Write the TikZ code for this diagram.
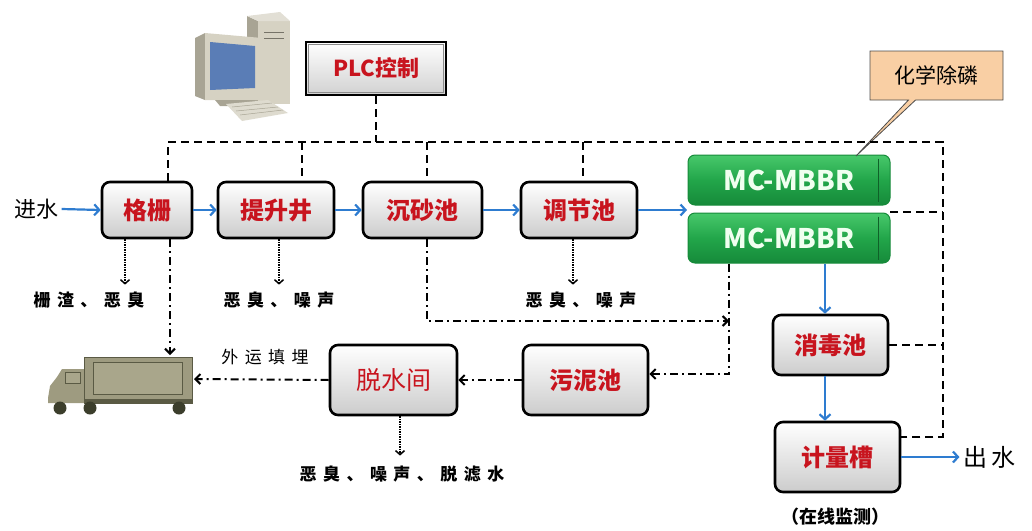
\documentclass[tikz,border=0pt]{standalone}
\usepackage{fontspec}
\setmainfont{Noto Sans CJK SC}
\newfontfamily\spc{Noto Sans CJK SC}[LetterSpace=38]
\usetikzlibrary{arrows.meta,shapes.callouts,calc}
\definecolor{unitred}{HTML}{C8141E}
\definecolor{flowblue}{HTML}{2E7CD0}
\definecolor{mbgreen}{HTML}{22A64A}
\definecolor{mbtop}{HTML}{48C86B}
\definecolor{mbbot}{HTML}{168A3A}
\definecolor{peach}{HTML}{F9CFA4}
\definecolor{truckbody}{HTML}{9E9B80}
\definecolor{truckin}{HTML}{A9A68B}
\definecolor{truckedge}{HTML}{5A5A44}
\definecolor{wheel}{HTML}{3C3E2C}
\definecolor{pcbeige}{HTML}{D6D2C3}
\definecolor{pcshade}{HTML}{A8A494}
\definecolor{screen}{HTML}{5A7DB6}
\begin{document}
\begin{tikzpicture}[x=1pt,y=-1pt,
  unit/.style={draw=black, line width=2.6pt, rounded corners=8pt,
    top color=white, bottom color=black!20, text=unitred,
    font=\fontsize{24}{24}\selectfont\bfseries, inner sep=0pt},
  mbbr/.style={draw=mbbot, line width=1pt, rounded corners=7pt,
    top color=mbtop, bottom color=mbbot, middle color=mbgreen,
    text=green!6!white, font=\fontsize{27}{27}\selectfont\bfseries,
    minimum width=202, minimum height=50, inner sep=0pt},
  note/.style={font=\spc\fontsize{17}{17}\selectfont\bfseries, inner sep=0pt},
  flow/.style={draw=flowblue, line width=2.2pt,
    -{Straight Barb[length=5pt,width=11pt,line width=2.2pt]}},
  ctrl/.style={line width=2pt, dash pattern=on 8pt off 5pt},
  sludge/.style={line width=2pt, dash pattern=on 8pt off 4pt on 2pt off 4pt,
    -{Straight Barb[length=5pt,width=10pt,line width=2pt]}},
  emit/.style={line width=1.5pt, dash pattern=on 1.2pt off 1.3pt,
    -{Straight Barb[length=4pt,width=9pt,line width=1.5pt]}}
]
\useasboundingbox (0,0) rectangle (1032,530);

% ---------- computer ----------
\fill[pcshade] (247,16) -- (258,21) -- (258,104) -- (247,98) -- cycle;
\fill[pcbeige] (258,21) rectangle (290,104);
\fill[pcbeige!70!white] (247,16) -- (280,12) -- (290,21) -- (258,21) -- cycle;
\draw[pcshade!70!black, line width=0.6pt] (264,32) -- (284,32) (264,38) -- (284,38);
\fill[pcshade] (195,38) -- (205,33) -- (205,100) -- (195,96) -- cycle;
\fill[pcbeige] (205,33) -- (262,38) -- (262,100) -- (205,100) -- cycle;
\fill[screen] (210,42) -- (255,46) -- (255,88) -- (210,90) -- cycle;
\fill[pcshade] (215,100) -- (255,100) -- (250,106) -- (220,106) -- cycle;
\fill[pcbeige!80!white] (226,104) -- (268,100) -- (288,113) -- (242,121) -- cycle;
\draw[pcshade, line width=0.5pt] (232,107) -- (272,103) (236,111) -- (278,107) (240,115) -- (283,110);

% ---------- truck ----------
\fill[truckbody] (48,398) -- (50,386) -- (57,377) -- (62,369) -- (86,369) -- (86,403) -- (48,403) -- cycle;
\fill[truckin, draw=truckedge, line width=0.6pt] (65,372) rectangle (80,383);
\fill[truckedge] (84,398) rectangle (193,404);
\fill[truckbody, draw=truckedge, line width=0.8pt] (84,357) rectangle (192,399);
\fill[truckin, draw=truckedge, line width=0.8pt] (93,362) rectangle (182,394);
\fill[wheel] (60,408) circle (6.5) (90,408) circle (6.5) (179,408) circle (6.5);
\coordinate (trucktop) at (170,355);
\coordinate (truckend) at (194,379);

% ---------- control ----------
\node[draw=black, line width=2.8pt, top color=white, bottom color=black!18,
  minimum width=140, minimum height=53, inner sep=0pt, text=unitred,
  font=\fontsize{22}{22}\selectfont\bfseries] (plc) at (376,68.5) {PLC控制};
\draw[black!45, line width=0.8pt] ($(plc.north west)+(4,4)$) rectangle ($(plc.south east)+(-4,-4)$);

% ---------- treatment units ----------
\node (jin) at (36,209) {\fontsize{22}{22}\selectfont 进水};
\node[unit, minimum width=90, minimum height=56] (gs) at (147,210) {格栅};
\node[unit, minimum width=116, minimum height=56] (tsj) at (276,210) {提升井};
\node[unit, minimum width=119, minimum height=56] (csc) at (422.5,210) {沉砂池};
\node[unit, minimum width=116, minimum height=56] (tjc) at (579,210) {调节池};
\node[mbbr] (mbbr1) at (789,180) {MC-MBBR};
\node[mbbr] (mbbr2) at (789,238) {MC-MBBR};
\foreach \b in {mbbr1,mbbr2}
  \draw[mbbot!70!black, line width=0.6pt] ($(\b.north east)+(-12,4)$) -- ($(\b.south east)+(-12,-4)$);
\node[unit, minimum width=115, minimum height=60] (xdc) at (830.5,345) {消毒池};
\node[unit, minimum width=125, minimum height=70] (jlc) at (837.5,457) {计量槽};
\node[unit, minimum width=125, minimum height=70] (wnc) at (585.5,380) {污泥池};
\node[unit, minimum width=127, minimum height=70, font=\fontsize{25}{25}\selectfont] (tsjian) at (393.5,380) {脱水间};
\node (chu) at (989,457) {\fontsize{24}{24}\selectfont 出\,水};
\node[font=\fontsize{18}{18}\selectfont\bfseries] (jc) at (835,517) {（在线监测）};

% ---------- phosphorus dosing ----------
\coordinate (phos) at (856,156);
\node[rectangle callout, draw=gray!60!black, fill=peach, line width=0.8pt,
  callout absolute pointer={(phos)}, minimum width=133, minimum height=49,
  font=\fontsize{21}{21}\selectfont] (phosbox) at (936.5,75.5) {化学除磷};

% ---------- water flow ----------
\coordinate (mbin) at (687,210);
\coordinate (fx) at (825,0);
\draw[flow] (jin.east) -- (gs.west);
\draw[flow] (gs.east) -- (tsj.west);
\draw[flow] (tsj.east) -- (csc.west);
\draw[flow] (csc.east) -- (tjc.west);
\draw[flow] (tjc.east) -- (mbin);
\draw[flow] (fx |- mbbr2.south) -- (fx |- xdc.north);
\draw[flow] (fx |- xdc.south) -- (fx |- jlc.north);
\draw[flow] (jlc.east |- chu.west) -- (chu.west);

% ---------- control lines ----------
\coordinate (t1) at (168,142);
\coordinate (t2) at (302,142);
\coordinate (t3) at (427,142);
\coordinate (t4) at (583,142);
\coordinate (tr) at (943,142);
\coordinate (mj) at (890,212);
\coordinate (jj) at ($(jlc.north east)+(0,16)$);
\draw[ctrl] (plc.south) -- (plc.south |- t1);
\draw[ctrl] (t1 |- gs.north) -- (t1) -- (tr) -- (tr |- jj) -- (jj);
\draw[ctrl] (t2) -- (t2 |- tsj.north);
\draw[ctrl] (t3) -- (t3 |- csc.north);
\draw[ctrl] (t4) -- (t4 |- tjc.north);
\draw[ctrl] (mj) -- (tr |- mj);
\draw[ctrl] (xdc.east) -- (tr |- xdc.east);

% ---------- sludge lines ----------
\coordinate (sv) at (729,321);
\coordinate (sl) at (729,374);
\draw[sludge] (trucktop |- gs.south) -- (trucktop);
\draw[sludge] (t3 |- csc.south) |- (sv);
\draw[sludge] (sl |- mbbr2.south) -- (sl) -- (wnc.east |- sl);
\draw[sludge] (wnc.west) -- (tsjian.east);
\draw[sludge] (tsjian.west) -- (truckend);
\node[note, font=\spc\fontsize{17}{17}\selectfont] (wy) at (265,357) {外运填埋};

% ---------- emissions ----------
\node[note] (e1) at (89,300) {栅渣、恶臭};
\node[note] (e2) at (279,300) {恶臭、噪声};
\node[note] (e3) at (581,300) {恶臭、噪声};
\node[note] (e4) at (402,474) {恶臭、噪声、脱滤水};
\coordinate (c1) at (125,0);
\coordinate (c2) at (279,0);
\coordinate (c3) at (573,0);
\coordinate (c4) at (400,0);
\draw[emit] (c1 |- gs.south) -- ($(c1 |- e1.north)+(0,-7)$);
\draw[emit] (c2 |- tsj.south) -- ($(c2 |- e2.north)+(0,-7)$);
\draw[emit] (c3 |- tjc.south) -- ($(c3 |- e3.north)+(0,-7)$);
\draw[emit] (c4 |- tsjian.south) -- ($(c4 |- e4.north)+(0,-10)$);
\end{tikzpicture}
\end{document}
